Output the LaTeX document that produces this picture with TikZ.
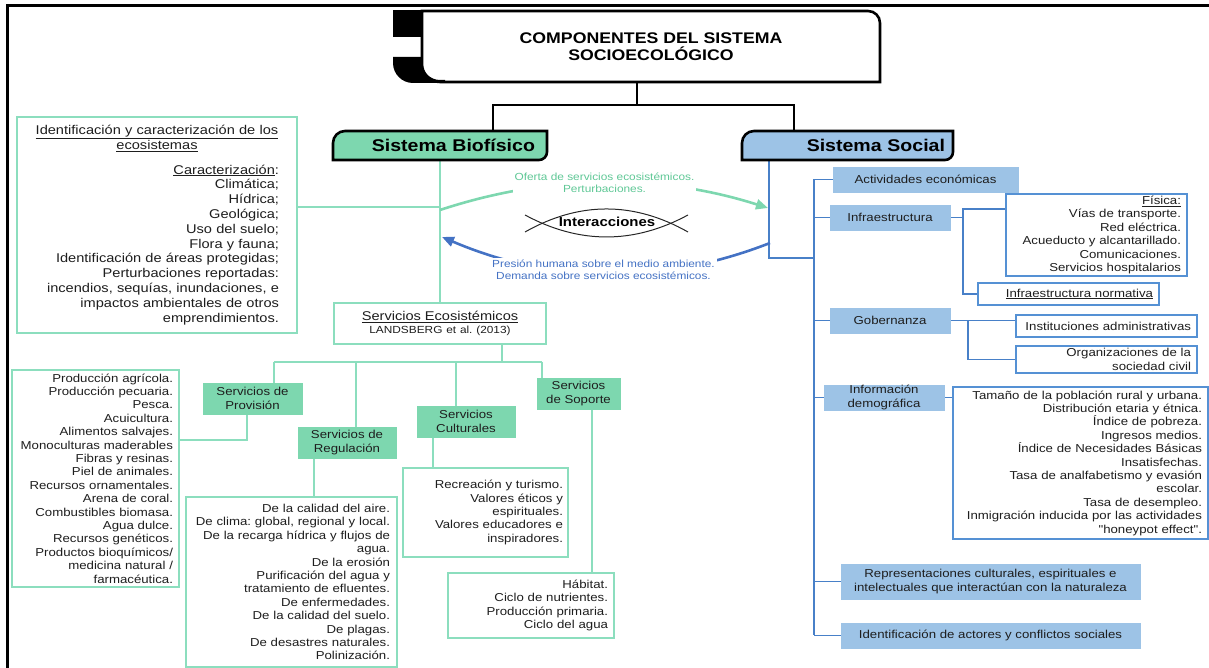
\documentclass[tikz,border=0pt]{standalone}
\usepackage{fontspec}
\setmainfont[FakeStretch=1.15]{Liberation Sans}
\newfontfamily\plainq[FakeStretch=1.15]{Liberation Sans}
\usetikzlibrary{arrows.meta,backgrounds}

\definecolor{gfill}{RGB}{125,215,175}
\definecolor{gline}{RGB}{140,222,190}
\definecolor{garc}{RGB}{125,215,175}
\definecolor{gtext}{RGB}{95,200,150}
\definecolor{bfill}{RGB}{157,195,230}
\definecolor{bline}{RGB}{72,128,200}
\definecolor{bbord}{RGB}{85,145,212}
\definecolor{barc}{RGB}{68,114,196}
\definecolor{btext}{RGB}{68,114,196}
\definecolor{inkc}{RGB}{30,30,30}

\newcommand\fsBody{\fontsize{11.5}{13.4}\selectfont}
\newcommand\fsBig{\fontsize{12.7}{14.8}\selectfont}
\newcommand\fsSmall{\fontsize{10.3}{12}\selectfont}
\newcommand\fsHead{\fontsize{17}{20}\selectfont\bfseries}
\newcommand\fsTitle{\fontsize{15.4}{17}\selectfont\bfseries}
\newcommand\fsInt{\fontsize{13}{15}\selectfont\bfseries}
\newcommand\sq{{\plainq\symbol{34}}}

\begin{document}
\frenchspacing
\begin{tikzpicture}[x=1pt,y=1pt,
  every node/.style={outer sep=0pt},
  gfbox/.style={fill=gfill, draw=gfill, line width=0.8pt, inner sep=0pt, align=center, font=\fsBody, text=inkc},
  bfbox/.style={fill=bfill, draw=bfill, line width=0.8pt, inner sep=0pt, align=center, font=\fsBody, text=inkc},
  gwbox/.style={fill=white, draw=gline, line width=1.8pt, inner ysep=0pt, align=right, font=\fsBody, text=inkc},
  bwbox/.style={fill=white, draw=bbord, line width=1.3pt, inner ysep=0pt, align=right, font=\fsBody, text=inkc},
  gcon/.style={draw=gline, line width=2pt},
  bcon/.style={draw=bline, line width=1.8pt},
  headtxt/.style={inner ysep=0pt, align=right, font=\fsHead, text=black},
  garrow/.style={draw=garc, line width=2.6pt, -{Triangle[length=12pt,width=10pt]}},
  barrow/.style={draw=barc, line width=2.6pt, -{Triangle[length=12pt,width=10pt]}},
  lens/.style={draw=black!85, line width=1pt},
]
\useasboundingbox (0,0) rectangle (1209,668);

% outer frame
\draw[line width=3pt] (7.5,0) -- (7.5,662) -- (1209,662);

% title box
\fill (393,658) rectangle (422,631);
\fill (393,611) -- (393,605) arc[start angle=180,end angle=270,radius=20pt] -- (445,585) -- (445,588) -- (440,588)
      arc[start angle=270,end angle=180,radius=18pt] -- (422,611) -- cycle;
\draw[line width=2.6pt] (422,657) -- (868,657) arc[start angle=90,end angle=0,radius=12pt] -- (880,586) -- (440,586)
      arc[start angle=270,end angle=180,radius=18pt] -- cycle;
\node[font=\fsTitle, align=center, text=black] (title) at (651,621.5) {COMPONENTES DEL SISTEMA\\SOCIOECOLÓGICO};
\coordinate (tb) at (637,586);
\coordinate (tm) at (637,563);
\coordinate (tl) at (493,563);
\coordinate (tr) at (794,563);

% system headers
\node[headtxt, minimum width=214pt, minimum height=29pt, text width=190pt, inner xsep=12pt] (bio) at (440,522.5) {Sistema Biofísico};
\node[headtxt, minimum width=211pt, minimum height=29pt, text width=195pt, inner xsep=8pt] (soc) at (847.5,522.5) {Sistema Social};

% biophysical side
\node[gwbox, font=\fsBig, minimum width=280pt, minimum height=216pt, text width=244pt, inner xsep=18pt] (lb) at (157,443) {%
\makebox[\linewidth][c]{\underline{Identificación y caracterización de los}}\\
\makebox[\linewidth][c]{\underline{ecosistemas}}\\[10pt]
\underline{Caracterización}:\\
Climática;\\
Hídrica;\\
Geológica;\\
Uso del suelo;\\
Flora y fauna;\\
Identificación de áreas protegidas;\\
Perturbaciones reportadas:\\
incendios, sequías, inundaciones, e\\
impactos ambientales de otros\\
emprendimientos.};

\node[gwbox, align=center, minimum width=212pt, minimum height=41pt, text width=200pt, inner xsep=6pt] (se) at (440,344.5)
  {{\fsBig\underline{Servicios Ecosistémicos}}\\[-1pt]{\fsSmall LANDSBERG et al. (2013)}};

\node[gfbox, minimum width=99pt, minimum height=31pt] (prov) at (252.5,269.5) {Servicios de\\Provisión};
\node[gfbox, minimum width=98pt, minimum height=31pt] (reg) at (347,225.5) {Servicios de\\Regulación};
\node[gfbox, minimum width=98pt, minimum height=31pt] (cul) at (466,246.5) {Servicios\\Culturales};
\node[gfbox, minimum width=83pt, minimum height=31pt] (sop) at (578.5,274.5) {Servicios\\de Soporte};

\node[gwbox, minimum width=167pt, minimum height=217pt, text width=155pt, inner xsep=6pt] (provL) at (95.5,189.5) {%
Producción agrícola.\\
Producción pecuaria.\\
Pesca.\\
Acuicultura.\\
Alimentos salvajes.\\
Monoculturas maderables\\
Fibras y resinas.\\
Piel de animales.\\
Recursos ornamentales.\\
Arena de coral.\\
Combustibles biomasa.\\
Agua dulce.\\
Recursos genéticos.\\
Productos bioquímicos/\\
medicina natural /\\
farmacéutica.};

\node[gwbox, minimum width=211pt, minimum height=170pt, text width=197pt, inner xsep=7pt] (regL) at (291.5,86) {%
De la calidad del aire.\\
De clima: global, regional y local.\\
De la recarga hídrica y flujos de\\
agua.\\
De la erosión\\
Purificación del agua y\\
tratamiento de efluentes.\\
De enfermedades.\\
De la calidad del suelo.\\
De plagas.\\
De desastres naturales.\\
Polinización.};

\node[gwbox, minimum width=165pt, minimum height=89pt, text width=155pt, inner xsep=5pt] (culL) at (485.5,155.5) {%
Recreación y turismo.\\
Valores éticos y\\
espirituales.\\
Valores educadores e\\
inspiradores.};

\node[gwbox, minimum width=166pt, minimum height=65pt, text width=154pt, inner xsep=6pt] (sopL) at (531,62.5) {%
Hábitat.\\
Ciclo de nutrientes.\\
Producción primaria.\\
Ciclo del agua};

% social side
\node[bfbox, minimum width=185pt, minimum height=25pt] (act) at (925.5,488.5) {Actividades económicas};
\node[bfbox, minimum width=120pt, minimum height=25pt] (infra) at (890,450.5) {Infraestructura};
\node[bfbox, minimum width=120pt, minimum height=25pt] (gob) at (890,347.5) {Gobernanza};
\node[bfbox, minimum width=120pt, minimum height=25pt] (info) at (884,270.5) {Información\\demográfica};
\node[bfbox, minimum width=299pt, minimum height=35pt] (rep) at (990.5,86.5) {Representaciones culturales, espirituales e\\intelectuales que interactúan con la naturaleza};
\node[bfbox, minimum width=299pt, minimum height=25pt] (ide) at (990.5,32.5) {Identificación de actores y conflictos sociales};

\node[bwbox, minimum width=181pt, minimum height=82pt, text width=169pt, inner xsep=6pt] (fis) at (1096.5,433) {%
\underline{Física:}\\
Vías de transporte.\\
Red eléctrica.\\
Acueducto y alcantarillado.\\
Comunicaciones.\\
Servicios hospitalarios};
\node[bwbox, minimum width=181pt, minimum height=22pt, text width=169pt, inner xsep=6pt] (norm) at (1068.5,374) {\underline{Infraestructura normativa}};
\node[bwbox, minimum width=181pt, minimum height=22pt, text width=169pt, inner xsep=6pt] (inst) at (1106.5,342) {Instituciones administrativas};
\node[bwbox, minimum width=181pt, minimum height=27pt, text width=169pt, inner xsep=6pt] (org) at (1106.5,308.5) {Organizaciones de la\\sociedad civil};
\node[bwbox, minimum width=255pt, minimum height=152pt, text width=243pt, inner xsep=6pt] (dem) at (1080.5,205) {%
Tamaño de la población rural y urbana.\\
Distribución etaria y étnica.\\
Índice de pobreza.\\
Ingresos medios.\\
Índice de Necesidades Básicas\\
Insatisfechas.\\
Tasa de analfabetismo y evasión\\
escolar.\\
Tasa de desempleo.\\
Inmigración inducida por las actividades\\
\sq honeypot effect\sq.};

% interaction labels
\node[font=\fsSmall, text=gtext, fill=white, inner xsep=2pt, inner ysep=2pt, align=center] (of) at (604.5,485)
  {Oferta de servicios ecosistémicos.\\Perturbaciones.};
\node[font=\fsSmall, text=btext, fill=white, inner xsep=2pt, inner ysep=2pt, align=center] (pr) at (603.5,398)
  {Presión humana sobre el medio ambiente.\\Demanda sobre servicios ecosistémicos.};
\node[font=\fsInt, text=black] (int) at (607,446) {Interacciones};

% coordinates for junctions
\coordinate (lj) at (440,461);
\coordinate (sej) at (502,306);
\coordinate (busL) at (274,306);
\coordinate (busR) at (542,306);
\coordinate (b2) at (356,306);
\coordinate (b3) at (456,306);
\coordinate (pj) at (247,228);
\coordinate (rj) at (314,200);
\coordinate (cj) at (433,200);
\coordinate (sj) at (592,200);
\coordinate (sv) at (769,410);
\coordinate (sp) at (814,410);
\coordinate (ij) at (963,459);
\coordinate (gj) at (968,0);
\coordinate (gA) at (440,458);
\coordinate (gB) at (768,460);
\coordinate (bA) at (770,425);
\coordinate (bB) at (442,431);

\begin{scope}[on background layer]
  % hierarchy from the title
  \draw[line width=2.6pt] (tb) -- (tm);
  \draw[line width=2.6pt] (tl |- bio.north) -- (tl) -- (tr) -- (tr |- soc.north);

  % biophysical connectors
  \draw[gcon] (bio.south) -- (se.north);
  \draw[gcon] (lb.east |- lj) -- (lj);
  \draw[gcon] (se.south -| sej) -- (sej);
  \draw[gcon] (busL) -- (busR);
  \draw[gcon] (busL) -- (busL |- prov.north);
  \draw[gcon] (b2) -- (b2 |- reg.north);
  \draw[gcon] (b3) -- (b3 |- cul.north);
  \draw[gcon] (busR) -- (busR |- sop.north);
  \draw[gcon] (pj |- prov.south) -- (pj) -- (pj -| provL.east);
  \draw[gcon] (rj |- reg.south) -- (rj |- regL.north);
  \draw[gcon] (cj |- cul.south) -- (cj |- culL.north);
  \draw[gcon] (sj |- sop.south) -- (sj |- sopL.north);

  % social connectors
  \draw[bcon] (sv |- soc.south) -- (sv) -- (sp);
  \draw[bcon] (act.west -| sp) -- (ide.west -| sp);
  \foreach \n in {act,infra,gob,info,rep,ide} \draw[bcon] (\n.west -| sp) -- (\n.west);
  \draw[bcon] (infra.east) -- (infra.east -| ij);
  \draw[bcon] (ij -| fis.west) -- (ij) |- (norm.west);
  \draw[bcon] (gob.east) -- (gob.east -| inst.west);
  \draw[bcon] (gob.east -| gj) |- (org.west);
  \draw[bcon] (info.east) -- (info.east -| dem.west);

  % interaction arrows
  \draw[garrow] (gA) .. controls (549.3,494) and (658.7,494.7) .. (gB);
  \draw[barrow] (bA) .. controls (660.7,382.3) and (551.3,384.3) .. (bB);

  % interaction lens
  \draw[lens] (525,436) .. controls (579.3,466.7) and (633.7,466.7) .. (688,436);
  \draw[lens] (525,453) .. controls (579.3,423.7) and (633.7,423.7) .. (688,453);

  % system header shapes
  \filldraw[fill=gfill, draw=black, line width=2.6pt] (bio.south west) -- ([yshift=-12pt]bio.north west)
     arc[start angle=180,end angle=90,radius=12pt] -- (bio.north east) -- ([yshift=8pt]bio.south east)
     arc[start angle=0,end angle=-90,radius=8pt] -- cycle;
  \filldraw[fill=bfill, draw=black, line width=2.6pt] (soc.south west) -- ([yshift=-12pt]soc.north west)
     arc[start angle=180,end angle=90,radius=12pt] -- (soc.north east) -- ([yshift=8pt]soc.south east)
     arc[start angle=0,end angle=-90,radius=8pt] -- cycle;
\end{scope}
\end{tikzpicture}
\end{document}
